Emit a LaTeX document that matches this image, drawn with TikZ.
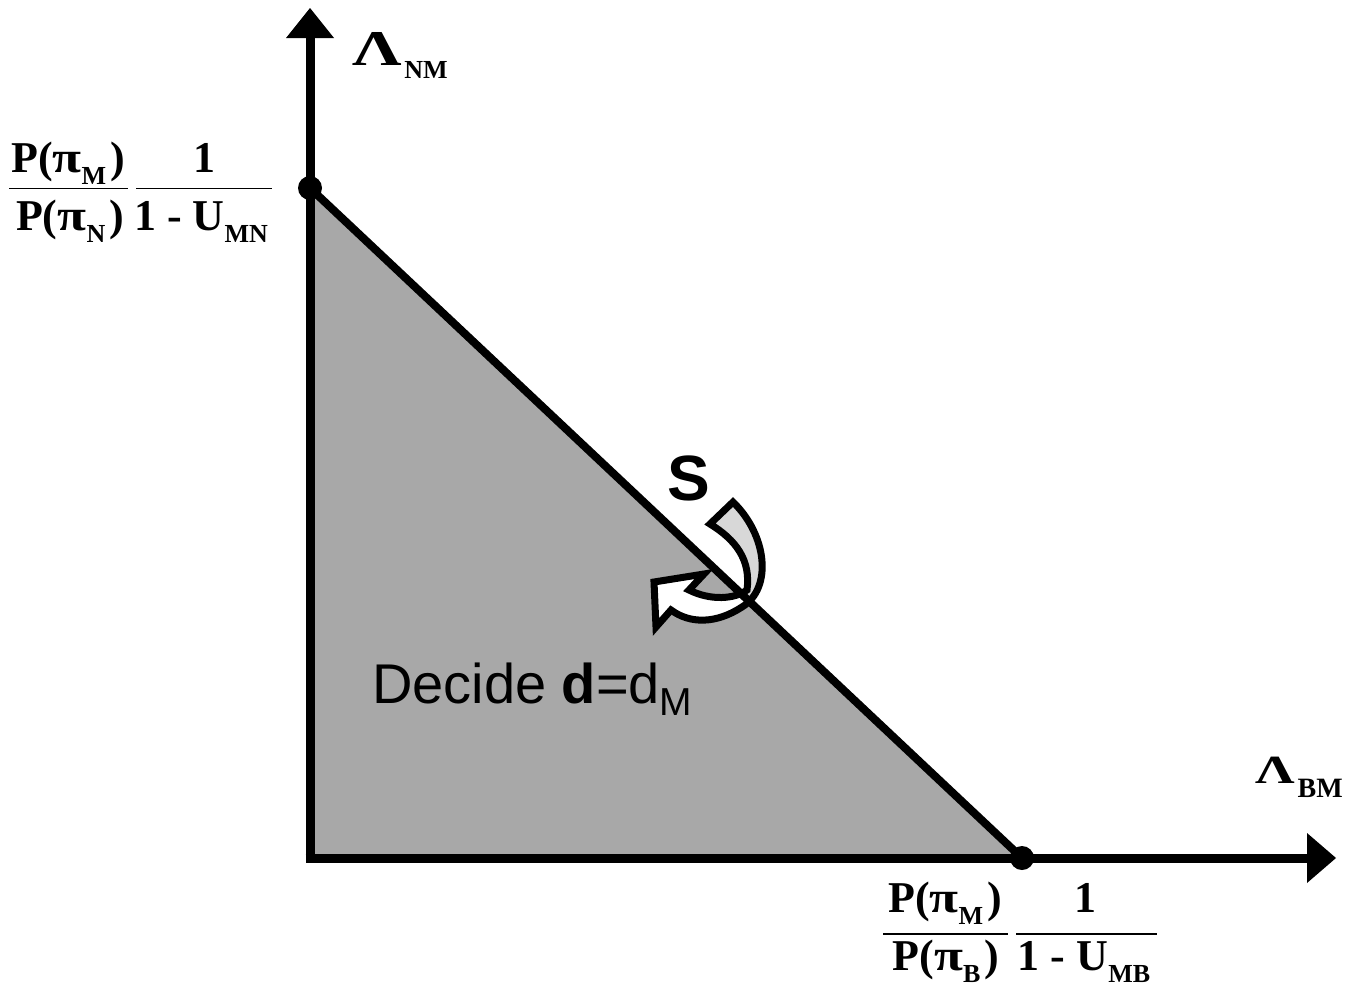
\documentclass[tikz,border=0pt]{standalone}
\usepackage{fontspec}
\setmainfont{Liberation Serif}
\newfontfamily\sansf{Liberation Sans}
\newcommand{\lsub}[1]{\raisebox{-12pt}{\fontsize{26}{26}\selectfont #1}}
\newcommand{\bigtxt}{\fontsize{44}{44}\selectfont\bfseries}
\newcommand{\wpi}{\scalebox{1.2}[1]{π}}
\newcommand{\wlam}{\scalebox{1.38}[1]{Λ}}
\definecolor{regiongray}{RGB}{168,168,168}
\definecolor{bandgray}{RGB}{216,216,216}
\begin{document}
\begin{tikzpicture}[x=1pt,y=-1pt,
  lbl/.style={inner sep=0pt, outer sep=0pt, anchor=base},
  axisline/.style={line width=9pt},
  headtip/.style={fill=black},
  fracbar/.style={line width=1.6pt},
  dotmark/.style={circle, fill=black, inner sep=0pt, minimum size=24pt},
  edge/.style={line width=8pt, line join=miter}]
\useasboundingbox (0,0) rectangle (1363,1001);
\coordinate (O) at (310,858);
\coordinate (A) at (310,188);
\coordinate (B) at (1022,858);
% region
\fill[regiongray] (O) -- (A) -- (B) -- cycle;
% curved arrow
\def\arrowpath{(733,502) .. controls (767,535) and (773,588) .. (742,607)
  .. controls (716,624) and (690,624) .. (671,610) -- (656,627) -- (654,582)
  -- (704,574) -- (689,590) .. controls (711,601) and (735,599) .. (747,590)
  .. controls (751,560) and (736,540) .. (710,524) -- cycle}
\path[fill=white] \arrowpath;
\begin{scope}
\clip (300,178) -- (1032,868) -- (1363,868) -- (1363,0) -- (300,0) -- cycle;
\path[fill=bandgray] \arrowpath;
\end{scope}
\draw[line width=7pt, line join=miter] \arrowpath;
% region border
\draw[edge] (O) -- (A) -- (B) -- cycle;
% axes
\coordinate (ytop) at (310,36);
\coordinate (xend) at (1310,858);
\draw[axisline] (310,862) -- (ytop);
\draw[axisline] (305.5,858) -- (xend);
\fill[headtip] (286,38) -- (334,38) -- (310,8) -- cycle;
\fill[headtip] (1307,833) -- (1307,883) -- (1336,858) -- cycle;
% dots
\node[dotmark] (dA) at (A) {};
\node[dotmark] (dB) at (B) {};
% axis labels
\node[lbl, anchor=base west] (lnm) at (352,65) {\fontsize{50}{50}\selectfont\bfseries \wlam\hspace{3pt}\raisebox{-13pt}{\fontsize{26}{26}\selectfont\bfseries NM}};
\node[lbl, anchor=base west] (lbm) at (1255,783) {\fontsize{40}{40}\selectfont\bfseries \wlam\hspace{3pt}\raisebox{-14pt}{\fontsize{28}{28}\selectfont\bfseries BM}};
% left fraction
\node[lbl] (ln1) at (68,172) {\bigtxt P(\wpi\lsub{M}\hspace{4pt})};
\node[lbl] (ld1) at (70,230) {\bigtxt P(\wpi\lsub{N}\hspace{4pt})};
\draw[fracbar] (9,188.5) -- (128,188.5);
\node[lbl] (ln2) at (204,172) {\bigtxt 1};
\node[lbl] (ld2) at (201,230) {\bigtxt 1 - U\lsub{MN}};
\draw[fracbar] (136,188.5) -- (272,188.5);
% bottom fraction
\node[lbl] (bn1) at (945,912) {\bigtxt P(\wpi\lsub{M}\hspace{4pt})};
\node[lbl] (bd1) at (946,970) {\bigtxt P(\wpi\lsub{B}\hspace{4pt})};
\draw[fracbar] (883,934) -- (1008,934);
\node[lbl] (bn2) at (1085,912) {\bigtxt 1};
\node[lbl] (bd2) at (1084,970) {\bigtxt 1 - U\lsub{MB}};
\draw[fracbar] (1016,934) -- (1157,934);
% S and decision
\node[lbl, anchor=base west] (S) at (667,500) {\sansf\fontsize{64}{64}\selectfont\bfseries S};
\node[lbl, anchor=base west] (dec) at (372,703) {\sansf\fontsize{56}{56}\selectfont Decide {\bfseries d}=d\raisebox{-12pt}{\fontsize{39}{39}\selectfont M}};
\end{tikzpicture}
\end{document}
